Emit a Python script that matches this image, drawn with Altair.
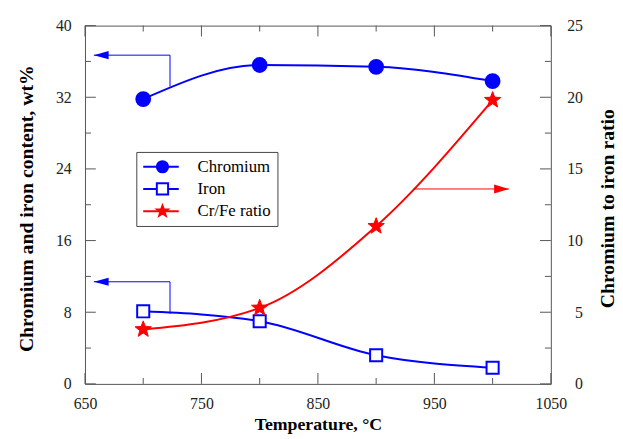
import altair as alt
import pandas as pd

# ---------------- data ----------------
temps = [700, 800, 900, 1000]
chromium = [31.8, 35.6, 35.4, 33.8]
iron = [8.1, 7.0, 3.2, 1.8]
cr_fe_ratio = [3.8, 5.3, 11.0, 19.8]
series_names = ["Chromium", "Iron", "Cr/Fe ratio"]

x_major = [650, 750, 850, 950, 1050]
x_minor = [700, 800, 900, 1000]
yl_major = [0, 8, 16, 24, 32, 40]
yl_minor = [4, 12, 20, 28, 36]
yr_major = [0, 5, 10, 15, 20, 25]
yr_minor = [2.5, 7.5, 12.5, 17.5, 22.5]

# annotation arrows, in data units
arrow_up_x = [723, 723, 657.6]
arrow_up_y = [33.2, 36.7, 36.7]
arrow_lo_x = [723, 723, 657.6]
arrow_lo_y = [7.85, 11.4, 11.4]
arrow_r_x = [932, 1014]
arrow_r_y = [13.6, 13.6]

FONT = "Liberation Serif"
BLUE = "#0000ff"
RED = "#ff0000"
GRAY = "#555555"
W, H = 472, 363
MAJOR, MINOR = 11, 6
STAR = ("M0,-1L0.2469,-0.3399L0.9511,-0.309L0.3995,0.1298L0.5878,0.809L0,0.42"
        "L-0.5878,0.809L-0.3995,0.1298L-0.9511,-0.309L-0.2469,-0.3399Z")

left_df = pd.DataFrame({
    "temp": temps * 2,
    "value": chromium + iron,
    "series": ["Chromium"] * 4 + ["Iron"] * 4,
})
cr_df = pd.DataFrame({"temp": temps, "value": chromium, "series": ["Chromium"] * 4})
fe_df = pd.DataFrame({"temp": temps, "value": iron, "series": ["Iron"] * 4})
ratio_df = pd.DataFrame({"temp": temps, "value": cr_fe_ratio, "series": ["Cr/Fe ratio"] * 4})

arrows_left = pd.DataFrame({
    "x": arrow_up_x + arrow_lo_x,
    "y": arrow_up_y + arrow_lo_y,
    "arrow": ["a"] * 3 + ["b"] * 3,
    "order": [0, 1, 2] * 2,
})
heads_left = pd.DataFrame({"x": [arrow_up_x[-1], arrow_lo_x[-1]], "y": [arrow_up_y[-1], arrow_lo_y[-1]]})
arrow_right = pd.DataFrame({"x": arrow_r_x, "y": arrow_r_y, "order": [0, 1]})
head_right = pd.DataFrame({"x": [arrow_r_x[-1]], "y": [arrow_r_y[-1]]})

XS = alt.Scale(domain=[650, 1050], nice=False, zero=False)
YL = alt.Scale(domain=[0, 40], nice=False, zero=False)
YR = alt.Scale(domain=[0, 25], nice=False, zero=False)

color_scale = alt.Scale(domain=series_names, range=[BLUE, BLUE, RED])
pt_domain = series_names + ["_"]
shape_scale = alt.Scale(domain=pt_domain, range=["circle", "square", STAR, "circle"])
fill_scale = alt.Scale(domain=pt_domain, range=[BLUE, "white", RED, "white"])
stroke_scale = alt.Scale(domain=pt_domain, range=[BLUE, BLUE, RED, BLUE])

legend_lines = alt.Legend(
    title=None, orient="none", legendX=52, legendY=128,
    symbolType="stroke", symbolSize=1296, symbolStrokeWidth=2,
    labelFont=FONT, labelFontSize=17, labelColor="black", labelOffset=18, labelLimit=0,
    strokeColor="#444444", fillColor="white", padding=6, rowPadding=4.5, clipHeight=18,
)
legend_pts = alt.Legend(
    title=None, orient="none", legendX=64, legendY=128, values=series_names,
    symbolSize=130, symbolStrokeWidth=2,
    labelFont=FONT, labelFontSize=17, labelExpr="''", labelOffset=18, labelLimit=0,
    padding=6, rowPadding=4.5, clipHeight=18,
)

bottom_axis = alt.Axis(
    orient="bottom", values=x_major, format="d", ticks=False, domain=False, grid=False,
    labelPadding=12, labelFlush=False, labelFontSize=16, labelOverlap=False,
    title="Temperature, °C", titleFontSize=18, titleFontWeight="bold",
    titleX=236, titleY=46, titleBaseline="alphabetic", titleAlign="center",
)
left_axis = alt.Axis(
    orient="left", values=yl_major, ticks=False, domain=False, grid=False,
    labelPadding=14, labelFontSize=16, labelFlush=False, labelOverlap=False,
    title="Chromium and iron content, wt%", titleFontSize=20, titleFontWeight="bold",
    titleAngle=270, titleX=-53, titleY=185, titleBaseline="alphabetic", titleAlign="center",
)
right_axis = alt.Axis(
    orient="right", values=yr_major, ticks=False, domain=False, grid=False,
    labelPadding=32, labelAlign="right", labelFontSize=16, labelFlush=False, labelOverlap=False,
    title="Chromium to iron ratio", titleFontSize=20, titleFontWeight="bold",
    titleAngle=270, titleX=63, titleY=185, titleBaseline="alphabetic", titleAlign="center",
)


def X(field):
    return alt.X(field, scale=XS, axis=bottom_axis)


def Y(field, side):
    if side == "left":
        return alt.Y(field, scale=YL, axis=left_axis)
    return alt.Y(field, scale=YR, axis=right_axis)


def lines(df, side):
    return alt.Chart(df).mark_line(interpolate="monotone", strokeWidth=2).encode(
        x=X("temp:Q"),
        y=Y("value:Q", side),
        color=alt.Color("series:N", scale=color_scale, legend=legend_lines),
    )


def points(df, side, size, sw):
    return alt.Chart(df).mark_point(filled=True, opacity=1, strokeWidth=sw, size=size).encode(
        x=X("temp:Q"),
        y=Y("value:Q", side),
        shape=alt.Shape("series:N", scale=shape_scale, legend=legend_pts),
        fill=alt.Fill("series:N", scale=fill_scale, legend=legend_pts),
        stroke=alt.Stroke("series:N", scale=stroke_scale, legend=legend_pts),
    )


def xticks(values, y0, y1):
    df = pd.DataFrame({"v": values})
    return alt.Chart(df).mark_rule(color=GRAY, strokeWidth=1).encode(
        x=X("v:Q"), y=alt.value(y0), y2=alt.value(y1))


def yticks(values, side, x0, x1):
    df = pd.DataFrame({"v": values})
    return alt.Chart(df).mark_rule(color=GRAY, strokeWidth=1).encode(
        y=Y("v:Q", side), x=alt.value(x0), x2=alt.value(x1))


arr_l = alt.Chart(arrows_left).mark_line(color=BLUE, strokeWidth=1).encode(
    x=X("x:Q"), y=Y("y:Q", "left"), detail="arrow:N", order="order:Q",
)
head_l = alt.Chart(heads_left).mark_point(
    shape="M0,0L2,-0.55L2,0.55Z", filled=True, color=BLUE, opacity=1, size=225
).encode(x=X("x:Q"), y=Y("y:Q", "left"))
arr_r = alt.Chart(arrow_right).mark_line(color=RED, strokeWidth=1).encode(
    x=X("x:Q"), y=Y("y:Q", "right"), order="order:Q",
)
head_r = alt.Chart(head_right).mark_point(
    shape="M0,0L-2,-0.6L-2,0.6Z", filled=True, color=RED, opacity=1, size=225
).encode(x=X("x:Q"), y=Y("y:Q", "right"))

left_group = alt.layer(
    lines(left_df, "left"),
    xticks(x_major, H, H - MAJOR), xticks(x_minor, H, H - MINOR),
    xticks(x_major, 0, MAJOR), xticks(x_minor, 0, MINOR),
    yticks(yl_major, "left", 0, MAJOR), yticks(yl_minor, "left", 0, MINOR),
    arr_l, head_l,
    points(cr_df, "left", 196, 2),
    points(fe_df, "left", 150, 2),
)
right_group = alt.layer(
    lines(ratio_df, "right"),
    yticks(yr_major, "right", W, W - MAJOR), yticks(yr_minor, "right", W, W - MINOR),
    arr_r, head_r,
    points(ratio_df, "right", 300, 1),
)

chart = alt.layer(left_group, right_group).resolve_scale(
    y="independent"
).properties(
    width=W, height=H,
    padding={"left": 78, "top": 15, "right": 65, "bottom": 53},
    autosize=alt.AutoSizeParams(type="none"),
).configure_view(
    stroke=GRAY, strokeWidth=1
).configure_axis(
    labelFont=FONT, titleFont=FONT, labelColor="#222222", titleColor="black"
).configure_legend(
    labelFont=FONT, labelFontSize=17
)

chart.save("out.html", embed_options={"renderer": "svg", "actions": False})
